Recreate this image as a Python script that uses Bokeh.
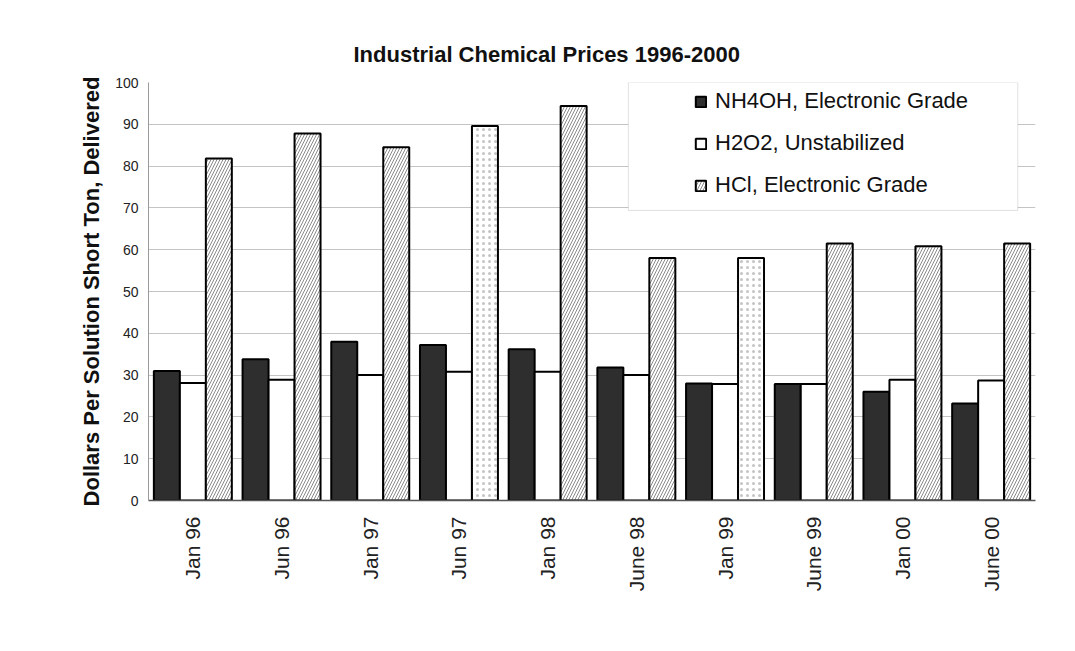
import math
from bokeh.plotting import figure
from bokeh.models import (FactorRange, Range1d, Legend, LegendItem, BoxAnnotation,
                          ColumnDataSource, FixedTicker)
from bokeh.transform import dodge
from bokeh.embed import file_html
from bokeh.resources import INLINE

# ---- data ----
categories = ["Jan 96", "Jun 96", "Jan 97", "Jun 97", "Jan 98",
              "June 98", "Jan 99", "June 99", "Jan 00", "June 00"]
nh4oh = [31.0, 33.8, 38.0, 37.2, 36.2, 31.8, 28.0, 27.9, 26.0, 23.2]
h2o2 = [28.1, 28.9, 30.0, 30.8, 30.8, 30.0, 27.9, 27.9, 28.9, 28.7]
hcl = [81.8, 87.8, 84.5, 89.6, 94.4, 58.0, 58.0, 61.5, 60.8, 61.5]
series_names = ["NH4OH, Electronic Grade", "H2O2, Unstabilized", "HCl, Electronic Grade"]
y_ticks = [0, 10, 20, 30, 40, 50, 60, 70, 80, 90, 100]

# style: two HCl bars in the scan are stippled rather than hatched
stippled = {"Jun 97", "Jan 99"}
hcl_hatch = ["." if c in stippled else "/" for c in categories]
hcl_hatch_color = ["#c4c4c4" if c in stippled else "#8a8a8a" for c in categories]

src = ColumnDataSource(dict(cat=categories, nh4oh=nh4oh, h2o2=h2o2, hcl=hcl,
                            hcl_hatch=hcl_hatch, hcl_hatch_color=hcl_hatch_color))

FONT = "Liberation Sans"

p = figure(width=1075, height=651, output_backend="svg", toolbar_location=None,
           x_range=FactorRange(*categories, range_padding=0),
           y_range=Range1d(0, 100),
           min_border_left=148, min_border_right=40,
           min_border_top=82, min_border_bottom=151)

p.title.text = "Industrial Chemical Prices 1996-2000"
p.title.text_font = FONT
p.title.text_font_size = "22px"
p.title.text_font_style = "bold"
p.title.text_color = "#111111"
p.title.align = "left"
p.title.offset = 205
p.title.standoff = 32

bw = 0.293
r1 = p.vbar(x=dodge("cat", -bw, range=p.x_range), top="nh4oh", width=bw, source=src,
            fill_color="#2e2e2e", line_color="black", line_width=2)
r2 = p.vbar(x=dodge("cat", 0.0, range=p.x_range), top="h2o2", width=bw, source=src,
            fill_color="white", line_color="black", line_width=2)
r3 = p.vbar(x=dodge("cat", bw, range=p.x_range), top="hcl", width=bw, source=src,
            fill_color="white", line_color="black", line_width=2,
            hatch_pattern="hcl_hatch", hatch_color="hcl_hatch_color", hatch_scale=6,
            hatch_weight=1)

# axes
p.yaxis.ticker = FixedTicker(ticks=y_ticks)
p.yaxis.axis_label = "Dollars Per Solution Short Ton, Delivered"
p.yaxis.axis_label_text_font = FONT
p.yaxis.axis_label_text_font_size = "22px"
p.yaxis.axis_label_text_font_style = "bold"
p.yaxis.axis_label_text_color = "#111111"
p.yaxis.axis_label_standoff = 8
p.yaxis.major_label_text_font = FONT
p.yaxis.major_label_text_font_size = "14px"
p.yaxis.major_label_text_color = "#222222"
p.yaxis.major_tick_out = 0
p.yaxis.major_tick_in = 0
p.yaxis.minor_tick_line_color = None
p.yaxis.major_label_standoff = 10
p.yaxis.axis_line_color = "#9a9a9a"

p.xaxis.major_label_orientation = math.pi / 2
p.xaxis.major_label_text_font = FONT
p.xaxis.major_label_text_font_size = "21px"
p.xaxis.major_label_text_color = "#222222"
p.xaxis.major_tick_line_color = None
p.xaxis.minor_tick_line_color = None
p.xaxis.major_label_standoff = 10
p.xaxis.axis_line_color = "#555555"
p.xaxis.axis_line_width = 1.5

p.xgrid.grid_line_color = None
p.ygrid.grid_line_color = "#c4c4c4"
p.outline_line_color = None

# legend frame
box = BoxAnnotation(left=5.41, right=9.80, top=100, bottom=69.4,
                    fill_color="white", fill_alpha=1.0,
                    line_color="#9a9a9a", line_width=1)
p.add_layout(box)

legend = Legend(items=[LegendItem(label=series_names[0], renderers=[r1]),
                       LegendItem(label=series_names[1], renderers=[r2]),
                       LegendItem(label=series_names[2], renderers=[r3])],
                location=(546, 302), padding=0, spacing=16,
                glyph_width=13, glyph_height=13, label_height=26,
                label_standoff=8,
                label_text_font=FONT, label_text_font_size="22px",
                label_text_color="#111111",
                background_fill_alpha=0, border_line_alpha=0)
p.add_layout(legend)

open("out.html", "w").write(file_html(p, INLINE))
